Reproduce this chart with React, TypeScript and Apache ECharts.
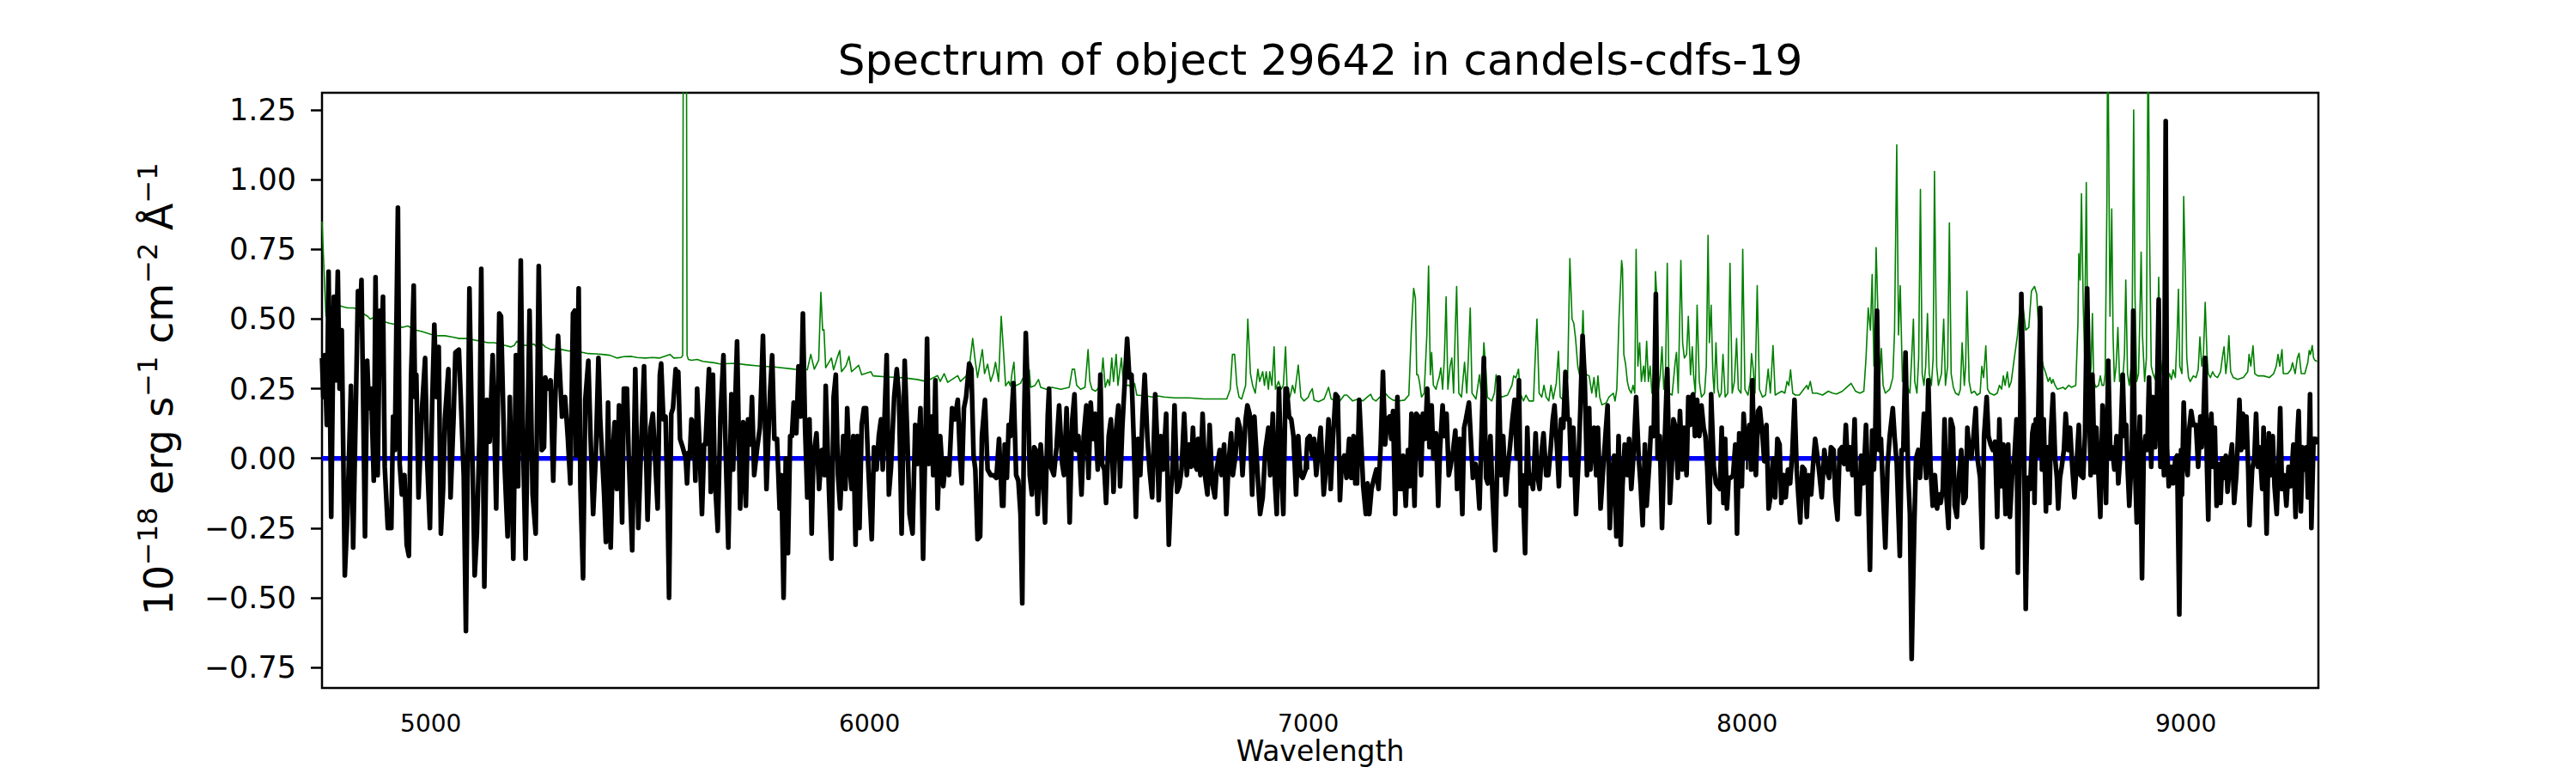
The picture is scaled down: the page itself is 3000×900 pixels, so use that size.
import React, { useEffect, useRef } from "react";
import * as echarts from "echarts";

const TITLE = "Spectrum of object 29642 in candels-cdfs-19";
const X_LABEL = "Wavelength";
const Y_LABEL_RICH = "{m|10}{s|\u221218}{m| erg s}{s|\u22121}{m| cm}{s|\u22122}{m| \u00c5}{s|\u22121}";

const xTicks = [5000, 6000, 7000, 8000, 9000];
const yTicks = [-0.75, -0.5, -0.25, 0, 0.25, 0.5, 0.75, 1.0, 1.25];
const xRange = [4752, 9302];
const yRange = [-0.824, 1.312];

const zeroLevel: [number, number][] = [
  [4752, 0],
  [9302, 0],
];

// observed flux (black)
const flux: [number, number][] = [
  [4752,0.36],[4755,0.22],[4758,0.37],[4763,0.12],[4767,0.67],[4773,-0.21],[4779,0.58],[4783,0.28],[4788,0.67],[4792,0.25],[4797,0.46],[4804,-0.42],[4810,-0.2],[4818,0.26],[4823,-0.32],[4834,0.6],[4838,0.48],[4842,0.64],[4850,-0.28],[4855,0.35],[4859,0.18],[4864,0.25],[4870,-0.08],[4874,0.65],[4879,-0.06],[4884,0.53],[4887,0.36],[4891,0.58],[4895,-0.03],[4902,-0.25],[4910,-0.25],[4914,0.15],[4918,0.03],[4925,0.9],[4929,-0.02],[4934,-0.13],[4940,-0.06],[4945,-0.31],[4950,-0.35],[4955,0.29],[4961,0.62],[4964,0.22],[4967,0.3],[4972,-0.14],[4980,0.18],[4987,0.36],[4992,-0.02],[4998,-0.25],[5003,0.19],[5008,0.48],[5013,0.22],[5018,0.4],[5023,-0.27],[5028,-0.11],[5032,0.14],[5040,0.32],[5045,-0.14],[5052,0.15],[5056,0.38],[5064,0.39],[5075,-0.06],[5080,-0.62],[5088,0.61],[5094,0.07],[5100,-0.42],[5105,-0.27],[5111,0.08],[5115,0.68],[5122,-0.46],[5128,0.21],[5134,0.06],[5141,0.37],[5149,-0.18],[5156,0.52],[5160,0.51],[5168,-0.02],[5175,-0.28],[5180,0.22],[5188,-0.36],[5194,0.37],[5199,-0.1],[5205,0.71],[5210,0.08],[5216,-0.36],[5225,0.53],[5232,-0.13],[5239,-0.27],[5246,0.69],[5253,0.03],[5258,0.04],[5261,0.29],[5267,0.25],[5273,0.28],[5279,-0.08],[5284,0.23],[5290,0.44],[5299,0.15],[5306,0.22],[5312,0.08],[5318,-0.09],[5324,0.52],[5328,0.53],[5331,0.01],[5337,0.61],[5341,-0.11],[5347,-0.43],[5352,0.21],[5359,0.35],[5364,0.08],[5370,-0.2],[5376,0.01],[5382,0.36],[5386,0.14],[5395,-0.13],[5399,-0.3],[5404,0.2],[5410,-0.32],[5415,0.03],[5419,0.13],[5424,-0.11],[5429,0.19],[5436,-0.23],[5440,0.25],[5447,0.25],[5451,0.01],[5459,-0.33],[5466,0.32],[5473,-0.25],[5479,0.03],[5486,0.33],[5494,-0.22],[5501,0.11],[5506,0.16],[5517,-0.18],
  [5522,0.3],[5525,0.34],[5530,0.14],[5535,0.15],[5540,-0.2],[5543,-0.5],[5548,0.16],[5552,0.18],[5558,0.32],[5561,0.28],[5564,0.31],[5568,0.07],[5574,0.04],[5581,0.0],[5584,-0.09],[5587,0.02],[5590,0.0],[5594,0.14],[5599,0.12],[5603,-0.08],[5607,0.25],[5612,0.06],[5618,-0.2],[5623,0.05],[5626,0.05],[5634,0.32],[5638,-0.12],[5643,0.3],[5647,-0.06],[5654,-0.26],[5660,0.15],[5667,0.37],[5672,0.03],[5678,-0.32],[5685,0.23],[5689,-0.04],[5693,0.16],[5698,0.42],[5705,-0.18],[5712,0.13],[5718,-0.17],[5723,0.14],[5728,0.05],[5732,0.22],[5737,-0.06],[5744,0.04],[5750,0.11],[5757,0.44],[5765,-0.11],[5773,0.23],[5778,0.37],[5783,0.07],[5789,0.07],[5795,-0.18],[5799,-0.06],[5804,-0.5],[5809,0.0],[5814,-0.34],[5819,0.08],[5823,0.08],[5827,0.2],[5833,0.09],[5838,0.33],[5843,0.15],[5848,0.52],[5853,0.11],[5858,-0.14],[5863,0.14],[5868,-0.27],[5872,0.01],[5879,0.09],[5885,-0.11],[5891,0.03],[5897,-0.06],[5900,0.26],[5908,-0.14],[5913,-0.36],[5918,0.22],[5923,0.3],[5928,-0.06],[5933,-0.18],[5940,0.08],[5945,-0.11],[5949,0.18],[5954,-0.02],[5959,-0.11],[5963,0.08],[5968,-0.31],[5972,0.08],[5977,-0.25],[5982,0.12],[5987,0.18],[5992,0.18],[5997,-0.03],[6005,-0.29],[6010,0.04],[6016,-0.04],[6021,0.08],[6026,0.14],[6030,-0.04],[6039,0.37],[6044,-0.13],[6049,-0.03],[6056,0.22],[6062,0.32],[6067,0.22],[6073,-0.27],[6080,0.35],[6086,0.08],[6091,-0.2],[6098,-0.27],[6104,0.12],[6109,-0.02],[6116,0.18],[6122,-0.36],[6128,0.14],[6131,0.43],[6135,-0.02],[6141,0.15],[6145,-0.06],[6150,0.28],[6155,-0.18],[6161,0.08],[6168,-0.1],[6174,0.0],[6181,-0.06],[6188,0.18],[6194,0.14],[6201,0.21],[6206,0.01],[6210,-0.09],[6215,0.18],[6220,0.22],[6227,0.34],[6232,0.32],[6237,0.01],[6241,-0.04],[6246,-0.29],[6252,-0.28],[6256,0.08],[6263,0.21],[6269,-0.04],[6276,-0.06],[6282,-0.06],[6289,-0.07],[6295,0.07],[6302,-0.17],
  [6305,-0.17],[6308,0.05],[6313,-0.07],[6317,0.12],[6321,0.08],[6328,0.27],[6334,-0.06],[6339,-0.08],[6344,-0.2],[6348,-0.52],[6352,0.12],[6356,0.45],[6361,0.22],[6365,-0.06],[6370,-0.13],[6375,0.04],[6379,0.03],[6383,-0.2],[6390,0.05],[6395,-0.06],[6400,-0.23],[6406,0.15],[6409,0.25],[6413,-0.03],[6420,-0.06],[6426,0.04],[6432,0.19],[6439,-0.02],[6443,-0.06],[6449,0.18],[6456,-0.23],[6462,0.14],[6467,0.23],[6471,0.03],[6476,0.08],[6483,-0.13],[6488,0.08],[6494,0.19],[6499,-0.07],[6504,0.2],[6509,0.07],[6514,0.16],[6520,-0.04],[6526,0.3],[6530,-0.02],[6535,-0.04],[6539,-0.16],[6545,0.08],[6550,0.14],[6556,-0.12],[6561,0.09],[6567,0.19],[6571,-0.1],[6576,0.11],[6580,0.23],[6587,0.43],[6592,0.29],[6597,0.3],[6602,0.07],[6607,-0.21],[6612,0.07],[6617,-0.06],[6622,0.15],[6627,0.3],[6633,0.08],[6638,-0.04],[6644,-0.14],[6651,0.23],[6655,0.08],[6659,-0.15],[6664,0.08],[6669,-0.04],[6676,0.16],[6682,-0.31],[6687,-0.11],[6690,-0.06],[6695,0.19],[6701,-0.12],[6706,-0.1],[6711,-0.04],[6717,0.16],[6723,-0.06],[6728,0.05],[6733,-0.03],[6737,0.11],[6741,-0.02],[6746,-0.04],[6749,0.07],[6754,-0.06],[6759,0.16],[6765,-0.07],[6770,-0.13],[6775,0.12],[6781,-0.09],[6787,-0.14],[6791,-0.04],[6798,0.03],[6802,-0.06],[6808,0.05],[6813,-0.2],[6818,-0.02],[6824,0.09],[6828,-0.06],[6834,0.01],[6839,0.14],[6844,0.11],[6850,-0.06],[6857,0.14],[6861,0.19],[6866,0.16],[6872,-0.13],[6877,0.15],[6882,0.01],[6886,-0.1],[6890,-0.2],[6896,-0.14],[6902,0.03],[6909,0.11],[6913,-0.06],[6919,0.16],[6924,-0.09],[6928,-0.2],[6933,0.25],[6938,-0.04],[6943,-0.2],[6948,0.25],[6951,0.25],[6956,0.15],[6961,0.14],[6966,0.08],[6972,-0.13],[6977,0.08],[6982,-0.06],[6987,-0.07],[6994,-0.04],[6998,0.07],[7003,0.08],[7009,0.01],[7013,0.07],[7018,-0.06],[7023,0.03],[7028,0.11],[7035,-0.13],[7040,-0.04],[7046,0.14],[7051,-0.11],[7056,0.07],[7062,0.23],[7067,0.22],[7072,-0.15],[7076,-0.02],[7082,0.01],[7087,-0.07],
  [7088,-0.04],[7093,0.07],[7098,-0.07],[7103,0.08],[7107,-0.09],[7111,-0.09],[7116,0.21],[7121,0.04],[7125,-0.1],[7131,-0.2],[7135,-0.09],[7139,-0.2],[7144,-0.11],[7150,-0.07],[7155,-0.04],[7160,-0.11],[7165,0.05],[7170,0.31],[7175,0.05],[7180,0.14],[7185,0.15],[7189,0.07],[7193,0.17],[7198,-0.2],[7203,0.22],[7208,-0.11],[7212,-0.11],[7216,0.01],[7222,-0.17],[7227,0.03],[7231,-0.1],[7235,0.16],[7242,-0.17],[7246,0.16],[7251,0.15],[7257,-0.06],[7261,0.16],[7266,0.07],[7271,0.25],[7276,0.04],[7281,0.19],[7285,0.0],[7291,0.09],[7296,-0.17],[7300,0.03],[7306,0.19],[7310,0.08],[7315,0.16],[7320,-0.06],[7324,-0.03],[7330,0.03],[7335,0.1],[7339,-0.11],[7345,0.07],[7351,-0.2],[7355,0.11],[7359,0.14],[7366,0.2],[7370,0.08],[7375,-0.07],[7381,-0.02],[7385,-0.06],[7390,-0.18],[7395,0.11],[7400,0.36],[7405,-0.07],[7409,-0.09],[7415,0.08],[7420,-0.14],[7426,-0.33],[7430,-0.06],[7434,0.29],[7439,-0.06],[7444,0.08],[7450,-0.13],[7455,-0.03],[7460,0.05],[7465,0.14],[7470,0.21],[7475,0.0],[7480,0.28],[7484,-0.17],[7488,-0.06],[7494,-0.34],[7499,0.11],[7503,-0.09],[7507,-0.06],[7512,-0.11],[7518,0.09],[7522,-0.06],[7527,-0.11],[7532,0.03],[7536,0.09],[7542,-0.06],[7547,-0.06],[7552,0.03],[7557,0.14],[7561,0.19],[7567,0.03],[7571,-0.1],[7576,0.14],[7581,0.11],[7586,0.31],[7591,0.14],[7595,0.14],[7599,-0.06],[7604,0.11],[7610,-0.2],[7616,0.0],[7620,0.18],[7625,0.44],[7630,0.28],[7635,-0.06],[7640,0.18],[7643,-0.04],[7647,0.08],[7651,0.11],[7656,-0.06],[7660,0.11],[7666,-0.18],[7671,-0.06],[7677,0.08],[7682,0.19],[7687,-0.25],[7692,-0.07],[7697,0.01],[7702,-0.28],[7707,0.08],[7712,-0.31],[7716,-0.1],[7721,0.05],[7727,-0.06],[7731,0.07],[7736,-0.11],[7741,0.01],[7747,0.22],[7753,0.0],[7757,-0.09],[7762,-0.24],[7767,0.05],[7771,-0.17],[7777,-0.02],[7781,0.11],[7787,0.08],[7792,0.59],[7796,0.0],[7801,0.08],[7806,-0.25],[7811,0.01],[7818,0.32],[7824,-0.16],[7828,-0.04],[7832,0.14],[7837,0.11],[7842,-0.07],[7847,0.17],[7852,-0.04],[7857,0.11],[7862,-0.06],[7866,0.22],[7870,0.12],
  [7871,0.21],[7877,0.23],[7881,0.08],[7886,0.21],[7891,0.08],[7896,0.19],[7901,0.11],[7905,0.08],[7909,-0.03],[7914,-0.23],[7918,0.23],[7924,-0.03],[7929,-0.09],[7933,-0.1],[7938,-0.11],[7942,0.11],[7946,-0.16],[7950,0.07],[7954,-0.18],[7958,-0.07],[7963,-0.07],[7968,-0.06],[7973,0.05],[7977,-0.27],[7982,0.09],[7988,-0.1],[7992,0.16],[7995,0.08],[8000,0.0],[8005,0.12],[8009,-0.04],[8012,0.28],[8016,0.0],[8020,-0.06],[8025,0.17],[8029,0.18],[8035,0.08],[8039,-0.01],[8044,0.12],[8049,-0.18],[8054,-0.13],[8059,0.0],[8064,-0.14],[8069,0.07],[8074,0.05],[8078,-0.16],[8084,-0.06],[8088,-0.14],[8093,-0.04],[8098,-0.09],[8103,0.02],[8108,0.21],[8113,-0.04],[8117,-0.14],[8121,-0.23],[8126,-0.03],[8131,-0.04],[8136,-0.21],[8140,-0.06],[8146,-0.13],[8150,-0.03],[8155,0.07],[8160,0.01],[8165,-0.06],[8170,-0.14],[8176,0.03],[8181,-0.04],[8187,-0.07],[8191,0.04],[8197,0.03],[8201,-0.14],[8206,-0.22],[8211,0.03],[8216,0.04],[8221,-0.02],[8225,0.12],[8230,-0.04],[8235,0.04],[8240,-0.06],[8245,0.14],[8250,-0.2],[8255,-0.2],[8260,0.01],[8265,-0.09],[8271,0.12],[8275,-0.07],[8280,-0.4],[8285,0.1],[8289,-0.04],[8292,0.08],[8296,0.53],[8301,0.03],[8305,0.07],[8310,-0.13],[8315,-0.32],[8320,-0.03],[8325,0.08],[8332,0.18],[8336,0.08],[8341,-0.02],[8348,-0.35],[8352,0.03],[8356,0.03],[8361,0.38],[8367,-0.06],[8371,-0.2],[8375,-0.72],[8381,-0.24],[8385,0.0],[8390,0.03],[8394,-0.07],[8399,0.04],[8403,0.16],[8408,-0.07],[8413,0.28],[8418,-0.03],[8423,-0.17],[8428,-0.06],[8433,-0.18],[8437,-0.13],[8441,-0.16],[8446,-0.11],[8450,0.14],[8454,-0.13],[8459,-0.25],[8464,0.14],[8469,0.11],[8473,-0.17],[8478,-0.21],[8483,-0.06],[8488,0.03],[8493,-0.16],[8498,-0.14],[8502,0.11],[8506,0.03],[8511,0.0],[8516,0.08],[8521,0.18],[8525,0.0],[8531,-0.07],[8536,-0.32],[8540,0.08],[8546,0.22],[8550,0.08],[8555,0.05],[8560,0.03],[8565,0.06],[8570,-0.21],[8575,0.14],[8580,-0.1],[8584,0.05],[8589,-0.2],[8595,0.05],[8599,-0.21],[8604,-0.06],[8609,0.0],[8614,0.14],[8617,-0.41],[8622,0.08],[8625,0.59],[8630,0.22],[8635,-0.54],[8640,-0.07],[8645,-0.11],[8650,0.09],[8653,0.12],
  [8655,-0.16],[8658,0.14],[8662,0.01],[8668,0.54],[8672,-0.04],[8676,0.14],[8681,-0.19],[8685,0.04],[8689,-0.16],[8692,0.08],[8697,0.23],[8702,0.0],[8706,-0.07],[8709,-0.18],[8713,-0.07],[8717,-0.03],[8722,0.03],[8726,0.16],[8732,0.03],[8736,0.11],[8741,-0.03],[8746,-0.14],[8751,-0.02],[8756,0.12],[8760,-0.06],[8766,-0.07],[8770,0.08],[8775,0.61],[8779,0.25],[8783,-0.06],[8787,0.3],[8792,-0.05],[8796,0.11],[8800,-0.03],[8805,-0.21],[8810,0.19],[8814,0.08],[8818,-0.16],[8823,0.35],[8828,0.0],[8832,0.04],[8837,-0.04],[8842,0.08],[8846,-0.09],[8850,0.0],[8856,0.3],[8860,0.08],[8864,0.12],[8867,-0.03],[8871,-0.17],[8877,0.03],[8880,0.53],[8884,-0.03],[8888,-0.23],[8892,0.0],[8895,0.15],[8900,-0.43],[8904,0.03],[8908,0.08],[8912,0.03],[8916,0.29],[8921,-0.03],[8925,0.22],[8930,0.04],[8934,0.22],[8938,0.57],[8942,-0.03],[8946,0.14],[8950,-0.06],[8954,1.21],[8957,0.04],[8961,-0.1],[8967,-0.03],[8971,-0.09],[8976,0.0],[8980,0.01],[8985,-0.56],[8989,0.03],[8991,-0.13],[8995,0.2],[8999,0.01],[9004,-0.06],[9008,0.11],[9012,0.17],[9017,0.12],[9023,0.12],[9028,-0.03],[9033,0.15],[9036,0.04],[9040,0.14],[9044,0.36],[9048,-0.03],[9051,-0.22],[9054,0.08],[9058,0.16],[9062,-0.03],[9066,0.11],[9070,-0.17],[9074,-0.02],[9079,-0.16],[9083,0.0],[9087,-0.07],[9091,0.01],[9095,-0.12],[9100,-0.02],[9105,0.05],[9110,-0.16],[9115,-0.06],[9118,0.05],[9122,0.21],[9126,0.03],[9130,0.16],[9134,0.04],[9138,0.15],[9142,-0.04],[9145,-0.24],[9151,-0.04],[9156,0.0],[9160,0.16],[9164,-0.03],[9168,0.04],[9174,-0.11],[9177,0.11],[9180,-0.04],[9184,-0.27],[9189,0.09],[9193,-0.06],[9198,0.08],[9202,-0.1],[9207,-0.2],[9211,-0.03],[9215,0.18],[9219,-0.11],[9224,-0.06],[9229,-0.17],[9234,-0.03],[9239,-0.1],[9245,0.05],[9250,-0.21],[9254,0.08],[9257,0.17],[9262,-0.19],[9266,0.04],[9270,-0.04],[9275,0.04],[9278,-0.14],[9283,0.23],[9286,-0.25],[9291,0.07],[9296,0.07],[9299,0.05],
];

// noise / error spectrum (green)
const noise: [number, number][] = [
  [4752,0.85],[4761,0.51],[4765,0.55],[4778,0.54],[4790,0.55],[4797,0.545],[4810,0.54],[4823,0.54],[4836,0.535],[4845,0.52],[4856,0.51],[4862,0.5],[4869,0.505],[4880,0.49],[4895,0.49],[4905,0.485],[4921,0.48],[4935,0.47],[4947,0.475],[4967,0.46],[4980,0.455],[5000,0.445],[5015,0.44],[5032,0.44],[5050,0.435],[5065,0.43],[5080,0.43],[5098,0.425],[5115,0.42],[5130,0.415],[5145,0.415],[5156,0.41],[5170,0.405],[5182,0.4],[5190,0.405],[5196,0.42],[5205,0.41],[5215,0.405],[5235,0.41],[5244,0.395],[5254,0.41],[5261,0.4],[5274,0.39],[5286,0.392],[5300,0.39],[5315,0.385],[5326,0.39],[5340,0.382],[5359,0.376],[5375,0.375],[5391,0.373],[5408,0.37],[5424,0.36],[5440,0.365],[5457,0.366],[5470,0.362],[5489,0.36],[5505,0.362],
  [5522,0.36],[5545,0.373],[5554,0.36],[5571,0.362],[5574,0.37],[5576,2.0],[5582,2.0],[5584,0.37],[5587,0.355],[5594,0.352],[5607,0.355],[5620,0.348],[5646,0.343],[5659,0.339],[5692,0.341],[5718,0.336],[5750,0.331],[5783,0.328],[5829,0.32],[5858,0.318],[5866,0.373],[5874,0.32],[5884,0.352],[5889,0.596],[5893,0.46],[5896,0.462],[5900,0.325],[5913,0.36],[5918,0.318],[5926,0.36],[5932,0.387],[5936,0.311],[5946,0.331],[5953,0.366],[5959,0.311],[5975,0.334],[5982,0.3],[6003,0.311],[6008,0.296],[6044,0.292],[6077,0.289],[6109,0.283],[6129,0.276],[6155,0.297],[6161,0.276],[6170,0.304],[6178,0.273],[6201,0.297],[6207,0.276],[6221,0.297],[6228,0.338],[6235,0.43],[6240,0.36],[6246,0.29],[6257,0.39],[6262,0.304],[6269,0.338],[6276,0.276],[6282,0.304],[6287,0.345],[6294,0.276],[6300,0.51],
  [6305,0.39],[6310,0.26],[6317,0.276],[6321,0.26],[6325,0.31],[6329,0.345],[6332,0.26],[6344,0.269],[6349,0.287],[6354,0.262],[6360,0.31],[6364,0.318],[6367,0.255],[6377,0.262],[6385,0.283],[6390,0.255],[6403,0.248],[6416,0.255],[6436,0.248],[6455,0.255],[6462,0.32],[6467,0.32],[6472,0.262],[6481,0.248],[6491,0.255],[6498,0.39],[6502,0.276],[6507,0.248],[6515,0.241],[6527,0.262],[6532,0.36],[6537,0.255],[6543,0.283],[6547,0.262],[6552,0.36],[6556,0.276],[6562,0.373],[6566,0.262],[6574,0.36],[6578,0.276],[6584,0.262],[6592,0.262],[6599,0.248],[6604,0.269],[6609,0.227],[6631,0.224],[6644,0.22],[6657,0.224],[6671,0.22],[6697,0.217],[6729,0.217],[6762,0.213],[6814,0.213],[6822,0.248],[6827,0.373],[6832,0.373],[6837,0.262],[6842,0.22],[6848,0.213],[6857,0.262],[6862,0.5],[6868,0.304],[6873,0.262],[6879,0.234],[6885,0.32],[6889,0.276],[6896,0.311],[6900,0.262],[6904,0.311],[6909,0.248],[6912,0.311],[6917,0.262],[6922,0.4],[6925,0.248],[6932,0.276],[6938,0.248],[6943,0.262],[6948,0.4],[6952,0.234],[6958,0.22],[6964,0.262],[6969,0.234],[6977,0.335],[6983,0.22],[6990,0.206],[7000,0.22],[7003,0.234],[7009,0.25],[7013,0.209],[7023,0.203],[7036,0.213],[7046,0.255],[7052,0.213],[7062,0.206],[7072,0.206],[7082,0.227],
  [7088,0.227],[7101,0.206],[7114,0.213],[7124,0.206],[7134,0.22],[7142,0.23],[7147,0.213],[7154,0.206],[7163,0.22],[7173,0.238],[7183,0.22],[7193,0.209],[7206,0.206],[7219,0.209],[7229,0.227],[7235,0.47],[7240,0.61],[7244,0.575],[7247,0.3],[7250,0.3],[7253,0.276],[7258,0.22],[7264,0.234],[7270,0.44],[7274,0.69],[7278,0.3],[7281,0.38],[7285,0.262],[7291,0.248],[7294,0.269],[7298,0.29],[7302,0.325],[7306,0.248],[7310,0.36],[7314,0.58],[7318,0.248],[7323,0.331],[7327,0.36],[7331,0.234],[7335,0.47],[7338,0.617],[7343,0.234],[7349,0.22],[7356,0.345],[7361,0.234],[7365,0.373],[7369,0.54],[7373,0.234],[7382,0.213],[7390,0.3],[7395,0.213],[7400,0.415],[7404,0.331],[7408,0.22],[7418,0.206],[7424,0.234],[7428,0.3],[7433,0.234],[7441,0.22],[7454,0.227],[7464,0.262],[7468,0.296],[7473,0.289],[7479,0.32],[7483,0.234],[7490,0.206],[7496,0.227],[7503,0.206],[7513,0.206],[7517,0.36],[7521,0.5],[7526,0.234],[7532,0.22],[7537,0.262],[7542,0.22],[7548,0.206],[7553,0.262],[7558,0.213],[7565,0.269],[7570,0.384],[7574,0.22],[7584,0.206],[7591,0.29],[7596,0.717],[7601,0.5],[7605,0.485],[7609,0.43],[7614,0.331],[7618,0.3],[7622,0.36],[7626,0.53],[7630,0.331],[7634,0.3],[7640,0.296],[7646,0.234],[7651,0.29],[7656,0.22],[7660,0.296],[7664,0.22],[7669,0.192],[7679,0.199],[7685,0.22],[7695,0.234],[7699,0.206],[7703,0.248],[7708,0.5],[7714,0.71],[7716,0.68],[7719,0.373],[7723,0.338],[7727,0.276],[7731,0.248],[7736,0.234],[7740,0.262],[7744,0.234],[7747,0.75],[7751,0.331],[7755,0.415],[7759,0.276],[7764,0.331],[7767,0.276],[7771,0.42],[7775,0.276],[7779,0.331],[7783,0.234],[7787,0.248],[7791,0.67],[7795,0.56],[7798,0.248],[7802,0.3],[7806,0.4],[7810,0.248],[7814,0.3],[7818,0.7],[7822,0.234],[7829,0.227],[7836,0.345],[7839,0.38],[7843,0.234],[7849,0.71],[7853,0.415],[7857,0.36],[7862,0.373],[7866,0.51],
  [7871,0.3],[7875,0.4],[7878,0.3],[7882,0.234],[7886,0.55],[7891,0.276],[7896,0.22],[7903,0.234],[7907,0.331],[7911,0.8],[7914,0.415],[7918,0.55],[7922,0.3],[7925,0.234],[7929,0.415],[7933,0.248],[7937,0.22],[7941,0.234],[7945,0.373],[7950,0.22],[7956,0.234],[7961,0.7],[7966,0.234],[7971,0.276],[7976,0.43],[7980,0.248],[7986,0.234],[7990,0.75],[7995,0.248],[8002,0.227],[8007,0.276],[8010,0.376],[8014,0.318],[8018,0.234],[8023,0.62],[8028,0.248],[8035,0.22],[8042,0.227],[8048,0.32],[8053,0.234],[8059,0.405],[8064,0.227],[8071,0.234],[8079,0.241],[8086,0.234],[8091,0.276],[8095,0.262],[8099,0.318],[8104,0.234],[8110,0.227],[8119,0.227],[8129,0.248],[8136,0.262],[8139,0.248],[8144,0.276],[8149,0.234],[8159,0.234],[8172,0.227],[8185,0.241],[8195,0.234],[8204,0.231],[8217,0.241],[8227,0.255],[8237,0.269],[8247,0.241],[8257,0.234],[8266,0.241],[8271,0.36],[8276,0.54],[8281,0.46],[8285,0.66],[8289,0.331],[8294,0.756],[8299,0.47],[8302,0.289],[8306,0.394],[8310,0.262],[8315,0.234],[8325,0.248],[8332,0.289],[8336,0.456],[8341,1.125],[8345,0.443],[8349,0.62],[8354,0.276],[8360,0.276],[8364,0.262],[8371,0.234],[8375,0.36],[8379,0.5],[8382,0.276],[8387,0.234],[8391,0.36],[8395,0.965],[8399,0.304],[8403,0.262],[8407,0.331],[8411,0.52],[8415,0.304],[8420,0.262],[8424,0.36],[8427,1.03],[8432,0.331],[8436,0.262],[8443,0.304],[8448,0.5],[8452,0.262],[8457,0.331],[8461,0.845],[8465,0.304],[8470,0.255],[8475,0.234],[8482,0.227],[8486,0.248],[8490,0.415],[8495,0.262],[8498,0.331],[8501,0.6],[8506,0.276],[8511,0.234],[8518,0.241],[8524,0.227],[8531,0.234],[8535,0.33],[8539,0.29],[8544,0.404],[8548,0.248],[8553,0.234],[8563,0.227],[8570,0.234],[8575,0.262],[8580,0.248],[8584,0.296],[8588,0.262],[8593,0.31],[8597,0.255],[8602,0.276],[8609,0.36],[8616,0.44],[8622,0.55],[8629,0.54],[8635,0.46],[8642,0.47],[8648,0.6],
  [8655,0.617],[8660,0.59],[8662,0.53],[8666,0.43],[8671,0.36],[8675,0.331],[8681,0.304],[8686,0.276],[8690,0.29],[8694,0.269],[8697,0.283],[8702,0.262],[8707,0.248],[8713,0.251],[8720,0.255],[8725,0.248],[8733,0.262],[8739,0.255],[8749,0.262],[8754,0.485],[8756,0.735],[8759,0.64],[8762,0.95],[8766,0.55],[8769,0.373],[8773,0.99],[8776,0.47],[8780,0.262],[8784,0.331],[8787,0.52],[8790,0.276],[8795,0.255],[8801,0.262],[8805,0.296],[8809,0.262],[8813,0.262],[8816,0.304],[8820,0.92],[8822,1.6],[8825,0.92],[8827,0.51],[8831,0.895],[8834,0.443],[8837,0.276],[8841,0.331],[8845,0.47],[8849,0.276],[8853,0.304],[8857,0.304],[8860,0.373],[8863,0.64],[8867,0.304],[8871,0.262],[8877,0.36],[8881,1.25],[8884,0.585],[8888,0.276],[8892,0.304],[8895,0.5],[8898,0.74],[8901,0.443],[8906,0.276],[8910,0.36],[8914,1.6],[8917,0.83],[8921,0.331],[8925,0.304],[8930,0.283],[8935,0.36],[8938,0.65],[8942,0.36],[8947,0.296],[8952,0.276],[8958,0.276],[8963,0.304],[8967,0.283],[8971,0.318],[8976,0.29],[8980,0.443],[8983,0.607],[8986,0.331],[8991,0.304],[8993,0.61],[8995,0.94],[8999,0.64],[9002,0.36],[9006,0.29],[9010,0.276],[9017,0.296],[9023,0.29],[9028,0.318],[9032,0.436],[9036,0.331],[9040,0.373],[9044,0.56],[9048,0.373],[9051,0.304],[9056,0.29],[9061,0.311],[9066,0.296],[9072,0.29],[9079,0.311],[9083,0.36],[9087,0.4],[9091,0.304],[9095,0.36],[9098,0.44],[9102,0.311],[9108,0.29],[9118,0.283],[9131,0.29],[9141,0.311],[9144,0.373],[9148,0.331],[9153,0.404],[9157,0.304],[9164,0.296],[9177,0.296],[9190,0.29],[9200,0.304],[9206,0.331],[9210,0.373],[9214,0.331],[9219,0.39],[9222,0.304],[9232,0.304],[9239,0.318],[9243,0.343],[9249,0.304],[9254,0.36],[9258,0.377],[9263,0.304],[9271,0.304],[9278,0.345],[9281,0.387],[9284,0.373],[9288,0.405],[9291,0.36],[9294,0.352],[9299,0.348],
];

const FONT = "DejaVu Sans";

function fmtY(v: number): string {
  const s = Math.abs(v).toFixed(2);
  return v < -1e-9 ? "\u2212" + s : s;
}

export default function App() {
  const ref = useRef<HTMLDivElement>(null);

  useEffect(() => {
    if (!ref.current) return;
    const chart = echarts.init(ref.current, null, { renderer: "svg" });
    chart.setOption({
      animation: false,
      backgroundColor: "#ffffff",
      textStyle: { fontFamily: FONT },
      grid: {
        left: 375,
        right: 300,
        top: 108,
        bottom: 99,
        show: true,
        borderColor: "#000000",
        borderWidth: 2.5,
        backgroundColor: "transparent",
      },
      xAxis: {
        type: "value",
        min: xRange[0],
        max: xRange[1],
        axisLine: { show: false },
        splitLine: { show: false },
        axisTick: {
          show: true,
          inside: false,
          length: 13,
          customValues: xTicks,
          lineStyle: { color: "#000000", width: 2.5 },
        },
        axisLabel: {
          show: true,
          customValues: xTicks,
          fontSize: 28,
          lineHeight: 28,
          margin: 27,
          color: "#000000",
          fontFamily: FONT,
          formatter: (v: number) => String(Math.round(v)),
        },
      },
      yAxis: {
        type: "value",
        min: yRange[0],
        max: yRange[1],
        axisLine: { show: false },
        splitLine: { show: false },
        axisTick: {
          show: true,
          inside: false,
          length: 13,
          customValues: yTicks,
          lineStyle: { color: "#000000", width: 2.5 },
        },
        axisLabel: {
          show: true,
          customValues: yTicks,
          fontSize: 35,
          margin: 30,
          color: "#000000",
          fontFamily: FONT,
          formatter: (v: number) => fmtY(v),
        },
      },
      series: [
        {
          type: "line",
          name: "noise",
          data: noise,
          symbol: "none",
          showSymbol: false,
          clip: true,
          z: 2,
          lineStyle: { color: "#008000", width: 1.6, join: "round" },
        },
        {
          type: "line",
          name: "zero",
          data: zeroLevel,
          symbol: "none",
          showSymbol: false,
          clip: true,
          z: 3,
          lineStyle: { color: "#0000ff", width: 5.5 },
        },
        {
          type: "line",
          name: "flux",
          data: flux,
          symbol: "none",
          showSymbol: false,
          clip: true,
          z: 4,
          lineStyle: { color: "#000000", width: 5.5, join: "round" },
        },
      ],
      graphic: [
        {
          type: "text",
          x: 1537.5,
          y: 70,
          style: {
            text: TITLE,
            fontSize: 50,
            fontFamily: FONT,
            fill: "#000000",
            align: "center",
            verticalAlign: "middle",
          },
        },
        {
          type: "text",
          x: 1537.5,
          y: 874,
          style: {
            text: X_LABEL,
            fontSize: 33,
            fontFamily: FONT,
            fill: "#000000",
            align: "center",
            verticalAlign: "middle",
          },
        },
        {
          type: "text",
          x: 185,
          y: 453,
          rotation: Math.PI / 2,
          style: {
            text: Y_LABEL_RICH,
            align: "center",
            verticalAlign: "middle",
            fill: "#000000",
            rich: {
              m: { fontSize: 46, lineHeight: 58, fontFamily: FONT, fill: "#000000", verticalAlign: "middle" },
              s: { fontSize: 32, lineHeight: 32, fontFamily: FONT, fill: "#000000", verticalAlign: "top" },
            },
          },
        },
      ],
    });
    return () => chart.dispose();
  }, []);

  return (
    <div
      ref={ref}
      style={{ position: "fixed", left: 0, top: 0, width: 3000, height: 900, background: "#ffffff" }}
    />
  );
}
